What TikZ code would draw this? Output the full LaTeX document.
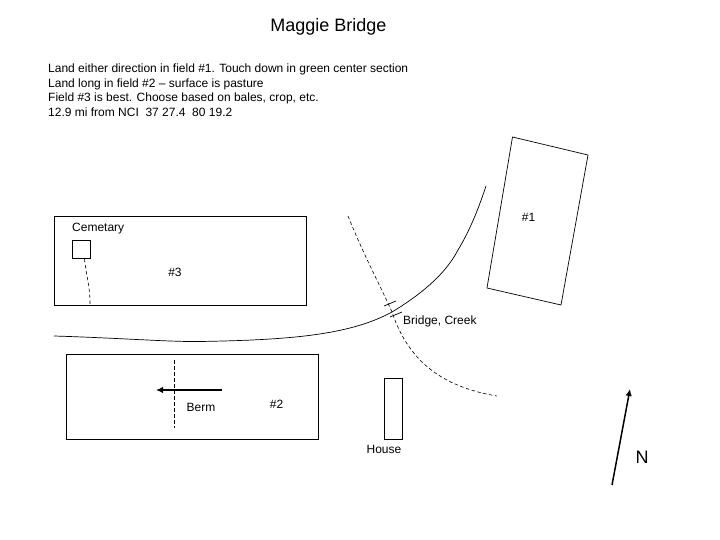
\documentclass[tikz,border=0pt]{standalone}
\usepackage{fontspec}
\setmainfont{Liberation Sans}
\usepackage{tikz}
\usetikzlibrary{arrows.meta}

\begin{document}
\begin{tikzpicture}[x=1pt,y=-1pt,inner sep=0pt,font=\fontsize{12}{14.4}\selectfont,
    thickarrow/.style={-{Latex[length=7pt,width=6.5pt]},line width=1.5pt},
    roadline/.style={line width=0.7pt},
    trail/.style={dashed,dash pattern=on 3.5pt off 2.5pt,line width=0.6pt}]
\useasboundingbox (0,0) rectangle (720,540);
\node (title) at (328.5,27) {\fontsize{18}{21}\selectfont Maggie Bridge};
\node[anchor=north west,align=left] (notes) at (48,64) {Land either direction in field \#1. Touch down in green center section\\
Land long in field \#2 -- surface is pasture\\
Field \#3 is best. Choose based on bales, crop, etc.\\
12.9 mi from NCI\ \ 37 27.4\ \ 80 19.2};
% fields
\draw[roadline] (54.5,216) rectangle (306.5,305.5);
\draw[roadline] (66.5,354) rectangle (318,439);
\draw[roadline] (512.5,137) -- (588,155) -- (561,305) -- (487,288) -- cycle;
\node (one) at (528.5,217) {\#1};
\node (two) at (276.5,404) {\#2};
\node (three) at (175,272) {\#3};
% cemetery
\node[anchor=west] (cemetery) at (72,229) {Cemetary};
\node[draw,line width=0.7pt,minimum width=18.5pt,minimum height=18.5pt] (plot) at (81.5,249.5) {};
\coordinate (gate) at (90,304);
\draw[trail] (84.5,259) .. controls (86,275) and (90,285) .. (gate);
% road and creek
\coordinate (crossing) at (392,312);
\draw[roadline] (54,336) .. controls (120,338) and (170,342) .. (200,341.5) .. controls (290,340) and (350,335) .. (crossing) .. controls (420,295) and (445,275) .. (458,250) .. controls (470,230) and (478,210) .. (486,186);
\draw[trail] (348,216) .. controls (365,258) and (380,285) .. (crossing) .. controls (405,350) and (430,385) .. (497,396);
\coordinate (bridgeA) at (384,306);
\coordinate (bridgeB) at (396,301);
\coordinate (bridgeC) at (390,317);
\coordinate (bridgeD) at (402,312);
\draw[roadline] (bridgeA) -- (bridgeB);
\draw[roadline] (bridgeC) -- (bridgeD);
\node[anchor=west] (bridge) at (403,321) {Bridge, Creek};
% berm
\coordinate (bermtop) at (174.5,360);
\coordinate (bermend) at (174.5,428);
\coordinate (flowstart) at (222,390);
\coordinate (flowend) at (156,390);
\draw[trail] (bermtop) -- (bermend);
\draw[thickarrow] (flowstart) -- (flowend);
\node (berm) at (201,407) {Berm};
% house
\node[draw,line width=0.7pt,minimum width=18pt,minimum height=61pt] (houseplot) at (393,408.5) {};
\node (house) at (384,449) {House};
% north
\coordinate (southend) at (612,485);
\coordinate (northend) at (630,389);
\draw[thickarrow] (southend) -- (northend);
\node (north) at (642,457) {\fontsize{18}{21}\selectfont N};
\end{tikzpicture}
\end{document}
